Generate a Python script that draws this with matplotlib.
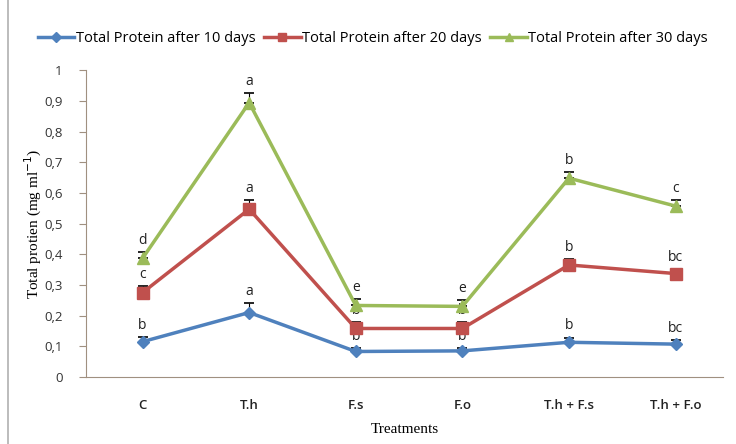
import matplotlib
matplotlib.use('Agg')
import matplotlib.pyplot as plt
from matplotlib.patches import Rectangle

# Data
treatments = ['C', 'T.h', 'F.s', 'F.o', 'T.h + F.s', 'T.h + F.o']

protein_10 = [0.115, 0.210, 0.083, 0.085, 0.113, 0.107]
protein_20 = [0.275, 0.547, 0.158, 0.158, 0.365, 0.337]
protein_30 = [0.387, 0.894, 0.233, 0.230, 0.648, 0.557]

err_10 = [0.015, 0.030, 0.010, 0.010, 0.015, 0.012]
err_20 = [0.020, 0.030, 0.020, 0.020, 0.020, 0.015]
err_30 = [0.020, 0.030, 0.020, 0.020, 0.020, 0.020]

letters_10 = ['b', 'a', 'b', 'b', 'b', 'bc']
letters_20 = ['c', 'a', 'b', 'b', 'b', 'bc']
letters_30 = ['d', 'a', 'e', 'e', 'b', 'c']

yticks = [0, 0.1, 0.2, 0.3, 0.4, 0.5, 0.6, 0.7, 0.8, 0.9, 1]
ytick_labels = ['0', '0,1', '0,2', '0,3', '0,4', '0,5', '0,6', '0,7', '0,8', '0,9', '1']

fig = plt.figure(figsize=(7.36, 4.44), dpi=100)
ax = fig.add_axes([0.117, 0.151, 0.866, 0.691])

# Outer chart frame
fig.patches.append(Rectangle((0.011, -0.01), 0.995, 1.2, transform=fig.transFigure,
                             fill=False, edgecolor='#b0b0b0', linewidth=1.2))

x = list(range(len(treatments)))
series = [
    (protein_10, err_10, letters_10, '#4F81BD', 'D', 6, 'Total Protein after 10 days'),
    (protein_20, err_20, letters_20, '#C0504D', 's', 8, 'Total Protein after 20 days'),
    (protein_30, err_30, letters_30, '#9BBB59', '^', 8, 'Total Protein after 30 days'),
]

for vals, errs, letters, color, marker, ms, label in series:
    ax.plot(x, vals, color=color, marker=marker, markersize=ms, linewidth=2.5,
            label=label, zorder=3)
    ax.errorbar(x, vals, yerr=[[0] * len(errs), errs], fmt='none', ecolor='black',
                elinewidth=0.8, capsize=3.5, capthick=1.2, zorder=2)
    for xi, v, e, t in zip(x, vals, errs, letters):
        ax.text(xi, v + e + 0.014, t, ha='center', va='bottom', fontsize=10,
                family='Open Sans', color='#222222')

ax.set_xlim(-0.53, 5.45)
ax.set_ylim(0, 1)
ax.set_yticks(yticks)
ax.set_yticklabels(ytick_labels, family='Open Sans', fontsize=9.5, color='#333333')
ax.set_xticks(x)
ax.set_xticklabels(treatments, family='Open Sans', fontsize=9.5, fontweight='semibold',
                   color='#222222')
ax.tick_params(axis='x', length=0, pad=16)
ax.tick_params(axis='y', length=5, color='#a09080', pad=12)

for side in ['top', 'right']:
    ax.spines[side].set_visible(False)
ax.spines['left'].set_color('#a09080')
ax.spines['bottom'].set_color('#a09080')

ax.set_xlabel('Treatments', family='Liberation Serif', fontsize=11, labelpad=8)
ax.set_ylabel('Total protien (mg ml$^{-1}$)', family='Liberation Serif', fontsize=11,
              labelpad=0)

ax.legend(loc='lower center', bbox_to_anchor=(0.45, 1.035), ncol=3, frameon=False,
          prop={'family': 'Open Sans', 'size': 10.5}, handlelength=2.5,
          handletextpad=0.1, columnspacing=0.6, markerscale=0.8)

fig.savefig('out.png', dpi=100)
